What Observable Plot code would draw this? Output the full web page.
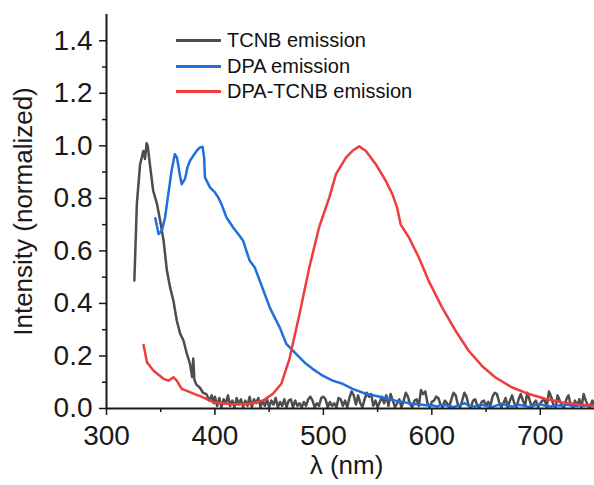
<!DOCTYPE html>
<html>
<head>
<meta charset="utf-8">
<script src="https://cdn.jsdelivr.net/npm/d3@7"></script>
<script src="https://cdn.jsdelivr.net/npm/@observablehq/plot@0.6"></script>
<style>
  html, body { margin: 0; padding: 0; background: #fff; }
  #wrap { position: relative; width: 594px; height: 485px; font-family: "Liberation Sans", Arial, sans-serif; }
  #legend { position: absolute; left: 176px; top: 28px; }
  .row { display: flex; align-items: center; height: 25.5px; font-size: 20px; color: #111; }
  .sw { width: 45px; height: 3px; margin-right: 6px; }
</style>
</head>
<body>
<div id="wrap"></div>
<script>
// ---- Data ----
const seriesNames = ["TCNB emission", "DPA emission", "DPA-TCNB emission"];
const seriesColors = ["#4d4d4d", "#1f6fde", "#f03c3c"];

// TCNB emission: main peak
const tcnbX = [325.7, 328, 331, 334, 335.5, 337, 338, 340, 343, 346.5, 349.5, 352.6, 355.7, 358.7, 361.7, 364.8, 367.9, 370.9, 374, 377, 379, 380, 381, 383, 386, 389, 392, 395, 397, 399];
const tcnbY = [0.487, 0.78, 0.93, 0.98, 0.95, 1.01, 1.0, 0.93, 0.83, 0.78, 0.715, 0.64, 0.525, 0.46, 0.41, 0.335, 0.285, 0.26, 0.21, 0.17, 0.12, 0.19, 0.11, 0.09, 0.08, 0.06, 0.055, 0.03, 0.05, 0.02];
// TCNB emission: noisy baseline, 400 nm to 750 nm every 2 nm
const tcnbNoiseStart = 400, tcnbNoiseStep = 2;
const tcnbNoise = [
  0.045,0.01,0.04,0.005,0.035,0.02,0.05,0.01,0.03,0.005,0.04,0.015,0.035,0.005,0.03,0.01,0.045,0.005,0.035,0.02,0.04,0.005,0.03,0.01,0.035,0.005,0.03,0.015,0.04,0.005,0.025,0.01,0.035,0.005,0.03,
  0.035,0.005,0.03,0.01,0.02,0.005,0.025,0.01,0.035,0.045,0.03,0.005,0.02,0.01,0.04,0.045,0.035,0.005,0.025,0.01,0.02,0.005,0.04,0.035,0.01,0.03,0.005,0.04,0.065,0.05,0.015,0.05,0.02,0.005,0.035,0.06,0.045,0.055,0.01,0.03,0.005,0.025,0.045,0.02,0.05,0.01,
  0.055,0.03,0.005,0.02,0.035,0.005,0.03,0.06,0.045,0.015,0.005,0.03,0.035,0.01,0.07,0.055,0.065,0.02,0.005,0.025,0.03,0.045,0.04,0.015,0.005,0.03,0.02,0.005,0.035,0.06,0.05,0.015,0.005,0.03,0.06,0.045,0.01,0.005,0.03,0.035,0.01,0.005,0.025,0.03,0.01,
  0.025,0.01,0.045,0.06,0.055,0.025,0.005,0.02,0.04,0.005,0.03,0.05,0.02,0.005,0.035,0.055,0.03,0.01,0.06,0.035,0.005,0.02,0.03,0.005,0.02,0.03,0.035,0.005,0.065,0.045,0.015,0.005,0.05,0.03,0.01,0.005,0.035,0.05,0.015,0.005,0.03,0.01,0.035,0.005,0.055,0.03,0.01,0.005,0.03,0.015
];

// DPA emission
const dpaX = [345, 348, 351, 354, 357, 360, 363, 365, 368, 369.4, 372.5, 374.6, 377, 380, 383, 386, 388.6, 390, 390.8, 395.4, 400, 403, 406, 410.7, 416.8, 421.4, 426, 429, 432, 436.7, 441.3, 445.9, 450.5, 455, 459.6, 465.8, 471.9, 478, 484, 490, 499.4, 508.5, 517.7, 526.9, 539, 551, 566.6, 582, 597];
const dpaY = [0.724, 0.664, 0.677, 0.727, 0.816, 0.905, 0.968, 0.955, 0.88, 0.854, 0.875, 0.918, 0.943, 0.962, 0.98, 0.994, 0.996, 0.955, 0.88, 0.842, 0.823, 0.804, 0.778, 0.727, 0.689, 0.664, 0.639, 0.60, 0.563, 0.537, 0.487, 0.436, 0.385, 0.347, 0.31, 0.246, 0.22, 0.195, 0.17, 0.151, 0.125, 0.106, 0.094, 0.075, 0.056, 0.046, 0.03, 0.018, 0.011];
// DPA emission tail, 600 nm to 750 nm every 5 nm
const dpaTailStart = 600, dpaTailStep = 5;
const dpaTail = [0.012,0.008,0.015,0.01,0.006,0.012,0.02,0.01,0.008,0.015,0.01,0.005,0.012,0.018,0.01,0.008,0.014,0.01,0.006,0.012,0.016,0.01,0.008,0.012,0.01,0.015,0.008,0.012,0.01,0.014,0.008];

// DPA-TCNB emission
const mixX = [334.2, 337.3, 343.4, 352.6, 357.2, 361.7, 364.8, 369.4, 377, 383, 386, 398.4, 416.8, 432, 444.3, 453.5, 461.2, 468.8, 478, 487, 496, 505.5, 511.6, 520.8, 526.9, 533, 539, 548.3, 557.5, 563.6, 568, 571.3, 578.9, 588, 597, 609.4, 621.7, 634, 646, 658.4, 673.7, 689, 704.3, 719.5, 734.9, 747, 750];
const mixY = [0.242, 0.176, 0.144, 0.113, 0.106, 0.119, 0.106, 0.075, 0.062, 0.052, 0.048, 0.024, 0.015, 0.018, 0.03, 0.056, 0.094, 0.19, 0.36, 0.537, 0.689, 0.804, 0.892, 0.955, 0.981, 0.998, 0.981, 0.93, 0.867, 0.816, 0.765, 0.70, 0.651, 0.575, 0.487, 0.385, 0.297, 0.22, 0.163, 0.119, 0.081, 0.056, 0.037, 0.024, 0.015, 0.011, 0.010];

// Tick labels
const xMajor = [300, 400, 500, 600, 700];
const xMinor = [350, 450, 550, 650];
const yMajor = [0, 0.2, 0.4, 0.6, 0.8, 1.0, 1.2, 1.4];
const yMinor = [0.1, 0.3, 0.5, 0.7, 0.9, 1.1, 1.3];

// ---- Build tables ----
const tcnb = tcnbX.map((x, i) => ({x, y: tcnbY[i]}))
  .concat(tcnbNoise.map((y, i) => ({x: tcnbNoiseStart + i * tcnbNoiseStep, y})));
const dpa = dpaX.map((x, i) => ({x, y: dpaY[i]}))
  .concat(dpaTail.map((y, i) => ({x: dpaTailStart + i * dpaTailStep, y})));
const mix = mixX.map((x, i) => ({x, y: mixY[i]}));

const font = "'Liberation Sans', Arial, sans-serif";
const axisColor = "#1a1a1a";

const chart = Plot.plot({
  width: 594,
  height: 485,
  marginLeft: 106,
  marginRight: 0,
  marginTop: 14,
  marginBottom: 77,
  style: {fontFamily: font, background: "white", color: axisColor},
  x: {domain: [300, 750]},
  y: {domain: [0, 1.5]},
  marks: [
    Plot.line(tcnb, {x: "x", y: "y", stroke: seriesColors[0], strokeWidth: 2.5, clip: true}),
    Plot.line(dpa, {x: "x", y: "y", stroke: seriesColors[1], strokeWidth: 2.5, clip: true}),
    Plot.line(mix, {x: "x", y: "y", stroke: seriesColors[2], strokeWidth: 2.5, clip: true}),
    Plot.axisX(xMajor, {tickSize: 7, tickPadding: 10, fontSize: 28, label: null, strokeWidth: 1.5}),
    Plot.axisX(xMinor, {tickSize: 4, tickFormat: () => "", label: null, strokeWidth: 1.5}),
    Plot.axisY(yMajor, {tickSize: 7, tickPadding: 7, fontSize: 28, label: null, tickFormat: d3.format(".1f"), strokeWidth: 1.5}),
    Plot.axisY(yMinor, {tickSize: 4, tickFormat: () => "", label: null, strokeWidth: 1.5}),
    Plot.ruleX([300], {stroke: axisColor, strokeWidth: 2}),
    Plot.ruleY([0], {stroke: axisColor, strokeWidth: 2}),
    Plot.text(["Intensity (normalized)"], {frameAnchor: "left", textAnchor: "middle", lineAnchor: "middle", rotate: -90, dx: -83, fontSize: 26, fill: axisColor}),
    Plot.text(["λ (nm)"], {frameAnchor: "bottom", textAnchor: "middle", lineAnchor: "middle", dx: -4, dy: 57, fontSize: 26, fill: axisColor})
  ]
});

const wrap = document.getElementById("wrap");
wrap.appendChild(chart);

// Legend
const legend = document.createElement("div");
legend.id = "legend";
seriesNames.forEach((name, i) => {
  const row = document.createElement("div");
  row.className = "row";
  const sw = document.createElement("div");
  sw.className = "sw";
  sw.style.background = seriesColors[i];
  const label = document.createElement("span");
  label.textContent = name;
  row.appendChild(sw);
  row.appendChild(label);
  legend.appendChild(row);
});
wrap.appendChild(legend);
</script>
</body>
</html>
